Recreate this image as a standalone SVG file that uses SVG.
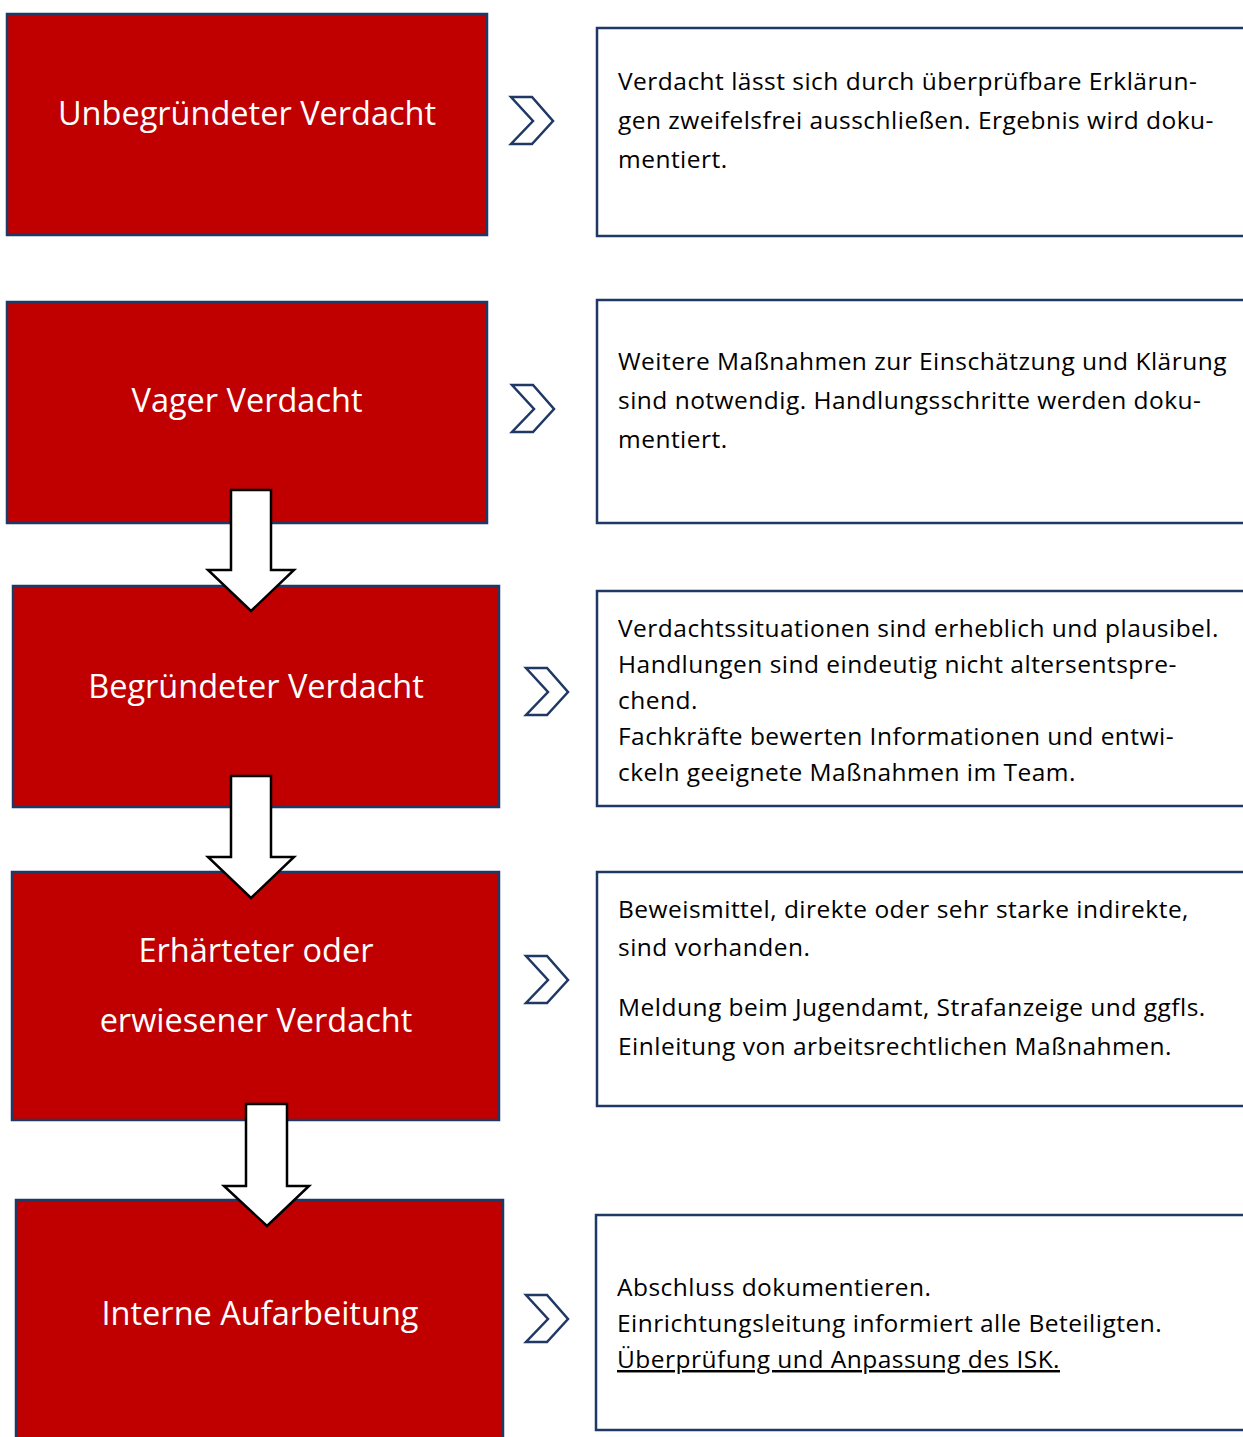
<svg xmlns="http://www.w3.org/2000/svg" width="1243" height="1437" viewBox="0 0 1243 1437">
<style>
.red{fill:#C00000;stroke:#1F3864;stroke-width:2.5}
.box{fill:#FFFFFF;stroke:#1F3864;stroke-width:2.5}
.chev{fill:#FFFFFF;stroke:#1F3864;stroke-width:2.5;stroke-linejoin:miter}
.arr{fill:#FFFFFF;stroke:#000000;stroke-width:2.5;stroke-linejoin:miter}
.lt{font-family:"Open Sans","Noto Sans","Liberation Sans",sans-serif;font-size:32.5px;fill:#FFFFFF;text-anchor:middle}
.rt{font-family:"Open Sans","Noto Sans","Liberation Sans",sans-serif;font-size:24.5px;letter-spacing:0.48px;fill:#000000}
.ul{text-decoration:underline;text-decoration-skip-ink:none}
</style>
<rect width="1243" height="1437" fill="#FFFFFF"/>
<g id="stage1">
<rect class="red" x="7" y="14" width="480" height="221"/>
<text class="lt" x="247" y="125">Unbegründeter Verdacht</text>
</g>
<g id="stage2">
<rect class="red" x="7" y="302" width="480" height="221"/>
<text class="lt" x="247" y="412">Vager Verdacht</text>
</g>
<g id="stage3">
<rect class="red" x="13" y="586" width="486" height="221"/>
<text class="lt" x="256" y="698">Begründeter Verdacht</text>
</g>
<g id="stage4">
<rect class="red" x="12" y="872" width="487" height="248"/>
<text class="lt" x="256" y="962">Erhärteter oder</text>
<text class="lt" x="256" y="1032">erwiesener Verdacht</text>
</g>
<g id="stage5">
<rect class="red" x="16" y="1200" width="487" height="250"/>
<text class="lt" x="260" y="1325">Interne Aufarbeitung</text>
</g>
<g id="desc1">
<rect class="box" x="597" y="28" width="660" height="208"/>
<text class="rt" x="618" y="90">Verdacht lässt sich durch überprüfbare Erklärun-</text>
<text class="rt" x="618" y="129">gen zweifelsfrei ausschließen. Ergebnis wird doku-</text>
<text class="rt" x="618" y="168">mentiert.</text>
</g>
<g id="desc2">
<rect class="box" x="597" y="300" width="660" height="223"/>
<text class="rt" x="618" y="370">Weitere Maßnahmen zur Einschätzung und Klärung</text>
<text class="rt" x="618" y="409">sind notwendig. Handlungsschritte werden doku-</text>
<text class="rt" x="618" y="448">mentiert.</text>
</g>
<g id="desc3">
<rect class="box" x="597" y="591" width="660" height="215"/>
<text class="rt" x="618" y="637">Verdachtssituationen sind erheblich und plausibel.</text>
<text class="rt" x="618" y="673">Handlungen sind eindeutig nicht altersentspre-</text>
<text class="rt" x="618" y="709">chend.</text>
<text class="rt" x="618" y="745">Fachkräfte bewerten Informationen und entwi-</text>
<text class="rt" x="618" y="781">ckeln geeignete Maßnahmen im Team.</text>
</g>
<g id="desc4">
<rect class="box" x="597" y="872" width="660" height="234"/>
<text class="rt" x="618" y="918">Beweismittel, direkte oder sehr starke indirekte,</text>
<text class="rt" x="618" y="956">sind vorhanden.</text>
<text class="rt" x="618" y="1016">Meldung beim Jugendamt, Strafanzeige und ggfls.</text>
<text class="rt" x="618" y="1055">Einleitung von arbeitsrechtlichen Maßnahmen.</text>
</g>
<g id="desc5">
<rect class="box" x="596" y="1215" width="660" height="215"/>
<text class="rt" x="617" y="1296">Abschluss dokumentieren.</text>
<text class="rt" x="617" y="1332">Einrichtungsleitung informiert alle Beteiligten.</text>
<text class="rt ul" x="617" y="1368">Überprüfung und Anpassung des ISK.</text>
</g>
<g id="connectors">
<polygon class="chev" points="511,97 532,97 553,121 532,144 511,144 533,121"/>
<polygon class="chev" points="512,385 533,385 554,409 533,432 512,432 534,409"/>
<polygon class="chev" points="526,668 547,668 568,692 547,715 526,715 548,692"/>
<polygon class="chev" points="526,956 547,956 568,980 547,1003 526,1003 548,980"/>
<polygon class="chev" points="526,1295 547,1295 568,1319 547,1342 526,1342 548,1319"/>
<polygon class="arr" points="231,490 271,490 271,570 294,570 251,611 208,570 231,570"/>
<polygon class="arr" points="231,776 271,776 271,857 294,857 251,898 208,857 231,857"/>
<polygon class="arr" points="246,1104 287,1104 287,1186 309,1186 267,1226 224,1186 246,1186"/>
</g>
</svg>
